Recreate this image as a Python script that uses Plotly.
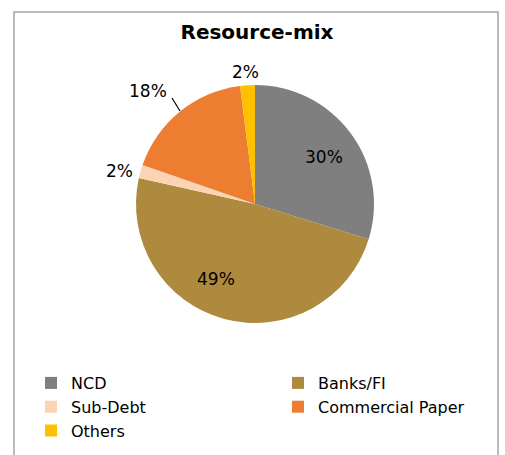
import plotly.graph_objects as go

labels = ["NCD", "Banks/FI", "Sub-Debt", "Commercial Paper", "Others"]
values = [29.8, 48.7, 1.8, 17.7, 2.0]
colors = ["#7F7F7F", "#AE8A3E", "#FBD4B4", "#ED7D31", "#FFC000"]
# data-label placement (pixel centres), as in the reference
label_pos = [(324, 157), (216, 279), (119, 171), (148, 91), (245, 72)]

W, H = 505, 455
cx, cy, r = 255, 204, 119

fig = go.Figure(go.Pie(
    labels=labels, values=values, sort=False, direction="clockwise", rotation=0,
    marker=dict(colors=colors, line=dict(width=0)),
    textinfo="none",
    domain=dict(x=[(cx - r) / W, (cx + r) / W], y=[1 - (cy + r) / H, 1 - (cy - r) / H]),
    hoverinfo="label+percent",
))

def px(x):
    return x / W

def py(y):
    return 1 - y / H

total = sum(values)
annotations = [
    dict(text=f"{round(v / total * 100)}%", x=px(p[0]), y=py(p[1]), xref="paper", yref="paper",
         xanchor="center", yanchor="middle", showarrow=False,
         font=dict(family="DejaVu Sans", size=17, color="black"))
    for v, p in zip(values, label_pos)
]

fig.update_layout(
    width=W, height=H,
    margin=dict(l=0, r=0, t=0, b=0, autoexpand=False),
    paper_bgcolor="white", plot_bgcolor="white",
    font=dict(family="DejaVu Sans", color="black"),
    title=dict(text="<b>Resource-mix</b>", x=px(257), xanchor="center", y=py(32), yanchor="middle",
               font=dict(size=20, family="DejaVu Sans", color="black")),
    showlegend=True,
    legend=dict(orientation="h", x=px(31), xanchor="left", y=py(366), yanchor="top",
                entrywidth=202, entrywidthmode="pixels", font=dict(size=16, family="DejaVu Sans"),
                traceorder="normal", bgcolor="rgba(0,0,0,0)"),
    annotations=annotations,
    shapes=[
        dict(type="rect", xref="paper", yref="paper", x0=px(14), x1=px(498), y0=-0.05, y1=py(12),
             line=dict(color="#A6A6A6", width=1.5), fillcolor="rgba(0,0,0,0)", layer="below"),
        dict(type="line", xref="paper", yref="paper", x0=px(172), y0=py(98), x1=px(180), y1=py(111),
             line=dict(color="black", width=1.2)),
    ],
)

fig.write_html("out.html")
